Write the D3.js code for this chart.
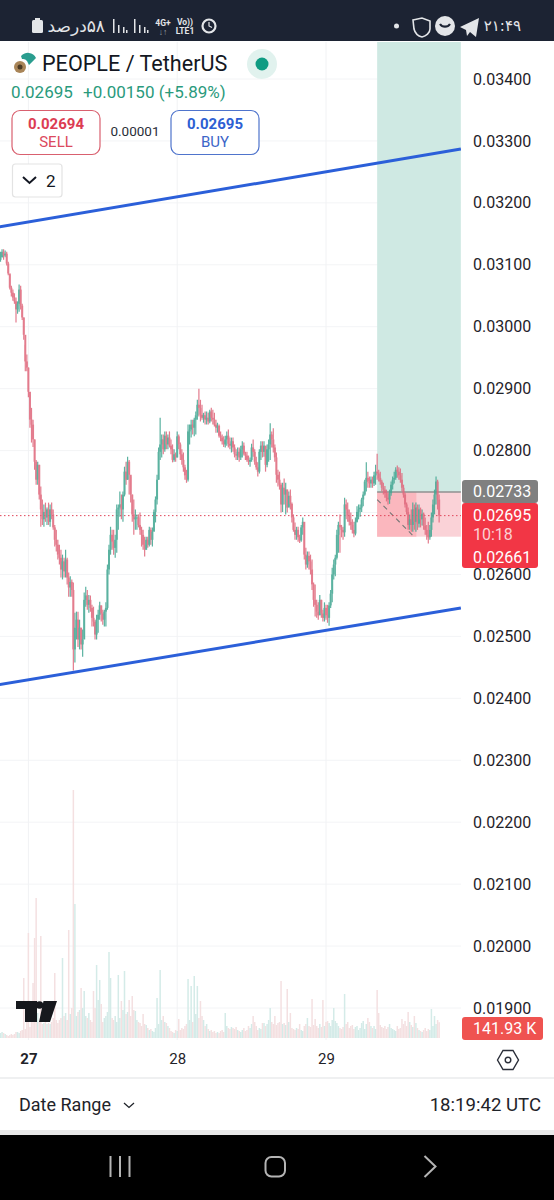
<!DOCTYPE html>
<html><head><meta charset="utf-8">
<style>
html,body{margin:0;padding:0;background:#fff;width:554px;height:1200px;overflow:hidden}
svg{display:block}
text{font-family:Roboto,sans-serif}
</style>
<script src="https://cdn.jsdelivr.net/npm/d3@7"></script>
</head><body>
<svg id="c" width="554" height="1200"></svg>
<script>
// PEOPLE / TetherUS, 15 minute candles. Prices are in units of 0.00001, volumes in thousands.
const firstOpen = 3108;
const highs = [
3121,3125,3125,3123,3121,3105,3084,3066,3060,3054,3047,3041,3068,3066,3037,3015,2971,2955,2934,2890,
2869,2850,2818,2785,2782,2777,2742,2721,2713,2716,2708,2716,2713,2716,2705,2680,2672,2656,2648,2640,
2632,2627,2640,2627,2603,2597,2592,2587,2538,2540,2540,2527,2514,2511,2571,2580,2575,2567,2566,2551,
2548,2527,2535,2543,2556,2550,2543,2543,2555,2616,2648,2677,2672,2672,2664,2713,2713,2734,2729,2734,
2774,2782,2790,2785,2758,2729,2721,2705,2697,2697,2700,2677,2672,2661,2661,2661,2677,2676,2676,2705,
2726,2761,2805,2853,2826,2826,2831,2831,2826,2831,2818,2810,2802,2797,2831,2826,2813,2802,2797,2777,
2769,2842,2842,2850,2850,2853,2863,2882,2900,2882,2874,2861,2863,2863,2861,2866,2869,2866,2861,2850,
2845,2842,2831,2826,2823,2824,2831,2834,2821,2821,2821,2810,2802,2805,2805,2808,2815,2813,2798,2798,
2792,2789,2811,2818,2802,2790,2781,2802,2815,2815,2815,2806,2810,2818,2844,2831,2836,2810,2797,2769,
2766,2748,2748,2755,2748,2737,2734,2737,2716,2697,2684,2677,2677,2664,2680,2692,2680,2643,2637,2637,
2632,2624,2587,2584,2559,2555,2567,2559,2543,2555,2551,2551,2555,2575,2611,2624,2632,2672,2685,2697,
2680,2677,2724,2721,2716,2705,2700,2689,2685,2692,2710,2713,2713,2724,2734,2753,2781,2766,2758,2758,
2758,2766,2777,2795,2769,2766,2753,2748,2743,2737,2732,2737,2750,2758,2766,2773,2776,2773,2771,2764,
2745,2732,2716,2708,2697,2705,2716,2713,2716,2713,2713,2708,2705,2700,2692,2680,2685,2680,2700,2721,
2737,2758,2753,2729];
const lows = [
3105,3112,3108,3112,3099,3083,3060,3049,3042,3037,3007,3021,3024,3028,3011,2979,2928,2928,2886,2837,
2813,2806,2769,2745,2745,2721,2677,2680,2677,2685,2680,2680,2677,2689,2672,2645,2637,2624,2616,2595,
2592,2595,2595,2584,2564,2564,2564,2445,2458,2495,2483,2479,2479,2467,2500,2548,2543,2538,2540,2516,
2516,2495,2495,2506,2527,2524,2519,2516,2516,2543,2600,2632,2640,2632,2627,2635,2672,2693,2689,2685,
2726,2745,2753,2729,2716,2685,2664,2672,2672,2676,2664,2645,2640,2629,2640,2643,2645,2648,2645,2672,
2684,2713,2753,2785,2789,2794,2798,2802,2802,2805,2794,2781,2782,2782,2789,2802,2785,2777,2766,2753,
2748,2750,2810,2821,2826,2823,2826,2850,2855,2847,2850,2845,2842,2842,2842,2844,2847,2842,2839,2829,
2829,2821,2815,2810,2806,2805,2808,2805,2802,2797,2798,2789,2785,2785,2782,2785,2789,2792,2785,2782,
2777,2774,2782,2790,2777,2769,2758,2763,2785,2789,2790,2766,2773,2782,2785,2805,2797,2782,2748,2742,
2737,2700,2701,2713,2697,2700,2710,2705,2684,2669,2656,2656,2653,2651,2653,2664,2624,2608,2611,2608,
2600,2575,2548,2532,2530,2527,2538,2530,2524,2524,2527,2522,2517,2546,2555,2592,2597,2624,2635,2635,
2660,2656,2661,2689,2685,2679,2672,2666,2660,2663,2684,2689,2693,2701,2710,2727,2734,2740,2740,2740,
2740,2743,2745,2753,2750,2745,2734,2729,2724,2718,2713,2714,2727,2737,2747,2753,2756,2753,2748,2734,
2724,2708,2697,2672,2672,2669,2669,2672,2669,2672,2676,2676,2679,2672,2664,2656,2650,2656,2661,2684,
2697,2713,2705,2684];
const closes = [
3112,3121,3115,3118,3102,3086,3063,3055,3047,3041,3028,3037,3060,3034,3015,2987,2944,2934,2895,2850,
2842,2818,2782,2753,2777,2729,2705,2689,2701,2692,2705,2685,2705,2697,2676,2656,2648,2632,2627,2608,
2621,2605,2624,2595,2579,2588,2575,2479,2514,2527,2495,2514,2487,2495,2559,2566,2551,2559,2546,2530,
2524,2503,2527,2535,2550,2537,2527,2540,2546,2608,2640,2664,2653,2643,2656,2705,2708,2713,2705,2729,
2766,2753,2782,2761,2729,2697,2689,2692,2692,2680,2672,2664,2648,2640,2656,2648,2672,2656,2669,2701,
2721,2753,2798,2810,2818,2802,2824,2810,2821,2808,2802,2785,2794,2789,2823,2810,2794,2785,2773,2760,
2753,2831,2834,2842,2837,2850,2857,2874,2869,2858,2853,2857,2850,2853,2847,2863,2853,2850,2842,2837,
2840,2824,2821,2815,2810,2818,2824,2811,2808,2815,2805,2794,2792,2798,2789,2802,2808,2795,2792,2785,
2782,2785,2805,2798,2782,2773,2766,2798,2808,2798,2808,2777,2802,2810,2826,2818,2805,2789,2761,2753,
2745,2713,2740,2729,2737,2708,2727,2714,2692,2672,2664,2672,2660,2655,2676,2685,2632,2616,2630,2621,
2608,2584,2559,2551,2540,2534,2559,2537,2530,2546,2534,2530,2550,2569,2600,2616,2627,2664,2680,2676,
2672,2668,2713,2705,2695,2685,2680,2672,2666,2685,2701,2705,2708,2721,2729,2750,2756,2750,2747,2753,
2747,2760,2766,2763,2756,2750,2740,2737,2731,2724,2721,2731,2745,2753,2756,2769,2766,2760,2753,2740,
2729,2713,2701,2680,2689,2680,2705,2685,2708,2682,2705,2689,2698,2679,2672,2664,2660,2672,2692,2713,
2729,2750,2721,2695];
const volumes = [
45,54,45,36,27,18,27,36,27,36,54,54,45,63,72,540,81,162,945,99,
144,495,900,1260,225,144,918,126,135,162,126,135,126,144,180,585,162,135,162,180,
720,198,225,162,972,216,270,2232,1206,198,234,252,450,270,423,198,180,225,162,144,
423,270,657,342,522,306,144,180,198,234,774,540,180,162,198,144,567,180,333,252,
603,216,234,342,198,378,252,243,162,144,135,108,216,126,117,90,72,81,63,54,
90,360,126,612,162,198,144,135,108,90,63,54,45,72,63,171,72,90,81,108,
126,531,162,468,144,558,216,468,180,333,198,162,108,126,81,63,72,54,63,45,
54,45,63,72,54,225,108,90,81,99,90,81,99,72,63,54,72,90,63,72,
108,90,126,198,144,108,72,90,81,135,135,108,126,162,270,144,126,198,117,135,
144,513,126,135,117,441,144,225,90,81,72,90,81,126,72,63,108,126,180,108,
99,351,117,171,108,90,126,99,342,108,144,153,135,108,162,270,153,135,108,90,
81,99,396,126,144,90,108,117,81,99,108,72,90,135,153,81,126,180,144,108,
90,108,81,432,225,117,99,90,108,81,99,126,90,81,72,63,108,81,90,171,
126,153,108,234,144,117,99,198,135,90,72,63,54,72,90,63,81,72,261,108,
198,126,162,141.93];
const priceTicks = [3400,3300,3200,3100,3000,2900,2800,2700,2600,2500,2400,2300,2200,2100,2000,1900];
const axisPriceTicks = priceTicks.filter(t => t !== 2700);
const dayIndex = [18,114,210];
const dayLabels = ["27","28","29"];
const upperTrend = [[-1,3161],[297,3287]];
const lowerTrend = [[-1,2422],[297,2546]];
const entryPrice = 2733, stopPrice = 2661, targetPrice = 3500, lastPrice = 2695;
const boxStart = 243, boxFilled = 268.3, boxEnd = 297;
const riskPath = [[243,2721],[266,2663]];

const svg = d3.select("#c");
const x = d3.scaleLinear().domain([0,297]).range([0.5,460.85]);
const y = d3.scaleLinear().domain([3400,1900]).range([79,1008]);
const v = d3.scaleLinear().domain([0,2232]).range([1038,790]);
const fmt = d => (d/100000).toFixed(5);

const GREEN = "#45a894", RED = "#e06a7e";
const candles = closes.map((c,i) => ({i, c, h:highs[i], l:lows[i], o:i?closes[i-1]:firstOpen, vol:volumes[i]}));

svg.append("defs").append("clipPath").attr("id","plot")
  .append("rect").attr("x",0).attr("y",42).attr("width",461).attr("height",998);

// grid
const plot = svg.append("g").attr("clip-path","url(#plot)");
plot.append("g").selectAll("line").data(priceTicks).join("line")
  .attr("x1",0).attr("x2",461).attr("y1",d=>y(d)).attr("y2",d=>y(d))
  .attr("stroke","#f3f4f6").attr("stroke-width",1);
plot.append("g").selectAll("line").data(dayIndex).join("line")
  .attr("x1",d=>x(d)).attr("x2",d=>x(d)).attr("y1",42).attr("y2",1040)
  .attr("stroke","#f1f2f4").attr("stroke-width",1);

// long position zones
plot.append("rect").attr("x",x(boxStart)).attr("width",x(boxEnd)-x(boxStart))
  .attr("y",y(targetPrice)).attr("height",y(entryPrice)-y(targetPrice)).attr("fill","#cfe9e3");
plot.append("rect").attr("x",x(boxStart)).attr("width",x(boxEnd)-x(boxStart))
  .attr("y",y(entryPrice)).attr("height",y(stopPrice)-y(entryPrice)).attr("fill","#fad2d7");
plot.append("rect").attr("x",x(boxStart)).attr("width",x(boxFilled)-x(boxStart))
  .attr("y",y(entryPrice)).attr("height",y(stopPrice)-y(entryPrice)).attr("fill","#fbb7be");
plot.append("line").attr("x1",x(boxStart)).attr("x2",x(boxEnd))
  .attr("y1",y(entryPrice)).attr("y2",y(entryPrice)).attr("stroke","#8f8f8f").attr("stroke-width",1.5);
plot.append("path").attr("d",d3.line().x(d=>x(d[0])).y(d=>y(d[1]))(riskPath))
  .attr("fill","none").attr("stroke","#777").attr("stroke-width",1.1).attr("stroke-dasharray","5,4");

// volume
plot.append("g").selectAll("rect").data(candles).join("rect")
  .attr("x",d=>x(d.i)-0.75).attr("width",1.5)
  .attr("y",d=>v(d.vol)).attr("height",d=>v(0)-v(d.vol))
  .attr("fill",d=>d.c>=d.o?"#d4ebe8":"#f4e0e1");

// current price line
plot.append("line").attr("x1",0).attr("x2",461).attr("y1",y(lastPrice)).attr("y2",y(lastPrice))
  .attr("stroke","#e0455a").attr("stroke-width",1).attr("stroke-dasharray","1.5,2.5");

// candles
const cg = plot.append("g").attr("opacity",0.88);
cg.selectAll("line").data(candles).join("line")
  .attr("x1",d=>x(d.i)).attr("x2",d=>x(d.i)).attr("y1",d=>y(d.h)).attr("y2",d=>y(d.l))
  .attr("stroke",d=>d.c>=d.o?GREEN:RED).attr("stroke-width",1.2);
cg.selectAll("rect").data(candles).join("rect")
  .attr("x",d=>x(d.i)-1).attr("width",2)
  .attr("y",d=>y(Math.max(d.o,d.c))).attr("height",d=>Math.max(1,Math.abs(y(d.c)-y(d.o))))
  .attr("fill",d=>d.c>=d.o?GREEN:RED);

// trend lines
const trend = d3.line().x(d=>x(d[0])).y(d=>y(d[1]));
[upperTrend,lowerTrend].forEach(t => plot.append("path").attr("d",trend(t))
  .attr("fill","none").attr("stroke","#2b5fd9").attr("stroke-width",3));

// price axis
const yAxis = svg.append("g").attr("transform","translate(462,0)")
  .call(d3.axisRight(y).tickValues(axisPriceTicks).tickSize(0).tickPadding(11).tickFormat(fmt));
yAxis.select(".domain").remove();
yAxis.selectAll("text").attr("font-size",16).attr("fill","#1f2329").style("font-family","Roboto,sans-serif");

// price tags
const tag = (x0,y0,w,h,fill,r) => svg.append("rect").attr("x",x0).attr("y",y0).attr("width",w).attr("height",h).attr("rx",r).attr("fill",fill);
const label = (tx,ty,t,size,fill,opt={}) => svg.append("text").attr("x",tx).attr("y",ty).attr("font-size",size)
  .attr("fill",fill).attr("text-anchor",opt.anchor||"start").attr("font-weight",opt.weight||400)
  .style("font-family",opt.family||"Roboto,sans-serif").text(t);
tag(462,480,76,23,"#808080",3);
tag(462,503,76,65,"#f23645",3);
label(473,497,fmt(entryPrice),16,"#fff");
label(473,521,fmt(lastPrice),16,"#fff");
label(473,540,"10:18",16,"#fbd0d4");
label(473,563,fmt(stopPrice),16,"#fff");
tag(462,1017,81,23,"#ef5350",3);
label(473,1034,"141.93 K",16,"#fff");

// time axis
const xAxis = svg.append("g").attr("transform","translate(0,1047)")
  .call(d3.axisBottom(x).tickValues(dayIndex).tickSize(0).tickPadding(6).tickFormat((d,i)=>dayLabels[i]));
xAxis.select(".domain").remove();
xAxis.selectAll("text").attr("font-size",15).attr("fill","#1f2329").style("font-family","Roboto,sans-serif")
  .attr("font-weight",(d,i)=>i===0?700:400);
svg.append("path").attr("d","M497.5 1060l5.5-9.5h10l5.5 9.5-5.5 9.5h-10z").attr("fill","none").attr("stroke","#2a2e39").attr("stroke-width",1.4);
svg.append("circle").attr("cx",508).attr("cy",1060).attr("r",2.8).attr("fill","none").attr("stroke","#2a2e39").attr("stroke-width",1.4);

// watermark
svg.append("path").attr("fill","#16181d")
  .attr("d","M16 1001h21v21h-12v-13h-9zM43.5 1001h13.5l-7 21h-11z");
svg.append("circle").attr("cx",39.5).attr("cy",1005).attr("r",3.8).attr("fill","#16181d");

// legend block
label(42,71,"PEOPLE / TetherUS",21.6,"#131722");
svg.append("path").attr("d","M21 56a9 9 0 0 1 15 2l-7 7-2-4a5 5 0 0 0-5-2z").attr("fill","#2a9d8f");
svg.append("circle").attr("cx",20).attr("cy",67).attr("r",6).attr("fill","#a98558");
svg.append("circle").attr("cx",20).attr("cy",67).attr("r",2.5).attr("fill","#4b3a25");
svg.append("circle").attr("cx",262).attr("cy",64).attr("r",15).attr("fill","#e1f2ee");
svg.append("circle").attr("cx",262).attr("cy",64).attr("r",6.5).attr("fill","#0f9b82");
label(11,98,"0.02695",17,"#2a9a7c");
label(83,98,"+0.00150 (+5.89%)",17,"#2a9a7c");
const btn = (x0,w,c) => svg.append("rect").attr("x",x0+.5).attr("y",110.5).attr("width",w).attr("height",44).attr("rx",8).attr("fill","#fff").attr("stroke",c).attr("stroke-width",1.2);
btn(11.5,88,"#d9606f"); btn(170.5,88,"#4f74cc");
label(56,129,"0.02694",15,"#dc3c52",{anchor:"middle",weight:700});
label(56,147,"SELL",15,"#dc4a5e",{anchor:"middle"});
label(215,129,"0.02695",15,"#2d5fd3",{anchor:"middle",weight:700});
label(215,147,"BUY",15,"#3c66c8",{anchor:"middle"});
label(135,136,"0.00001",13.5,"#2a2e39",{anchor:"middle"});
svg.append("rect").attr("x",12.5).attr("y",164).attr("width",49.5).attr("height",33).attr("rx",3).attr("fill","#fff").attr("stroke","#e3e3e3").attr("stroke-width",1.2);
svg.append("path").attr("d","M23 177l6.5 6 6.5-6").attr("fill","none").attr("stroke","#131722").attr("stroke-width",2);
label(46,187,"2",17,"#131722");

// footer
svg.append("line").attr("x1",0).attr("x2",554).attr("y1",1078).attr("y2",1078).attr("stroke","#eff0f1").attr("stroke-width",2);
label(19,1111,"Date Range",18,"#1f2329");
svg.append("path").attr("d","M124 1103l5 4.5 5-4.5").attr("fill","none").attr("stroke","#1f2329").attr("stroke-width",1.3);
label(541,1111,"18:19:42 UTC",18.6,"#1f2329",{anchor:"end"});
svg.append("rect").attr("x",0).attr("y",1130).attr("width",554).attr("height",5).attr("fill","#e9e9e9");

// navigation bar
svg.append("rect").attr("x",0).attr("y",1135).attr("width",554).attr("height",65).attr("fill","#000");
[110.5,120,129.5].forEach(px => svg.append("line").attr("x1",px).attr("x2",px).attr("y1",1156).attr("y2",1177).attr("stroke","#b4b4b4").attr("stroke-width",2));
svg.append("rect").attr("x",265.5).attr("y",1157).attr("width",19.5).attr("height",19.5).attr("rx",6).attr("fill","none").attr("stroke","#b4b4b4").attr("stroke-width",2);
svg.append("path").attr("d","M424.5 1156l11 10.5-11 10.5").attr("fill","none").attr("stroke","#b4b4b4").attr("stroke-width",2);

// status bar
svg.append("rect").attr("x",0).attr("y",0).attr("width",554).attr("height",41).attr("fill","#1c2333");
const ST = "#e3e5e8";
svg.append("rect").attr("x",32).attr("y",20).attr("width",11).attr("height",13).attr("rx",1.5).attr("fill",ST);
svg.append("rect").attr("x",35).attr("y",18).attr("width",5).attr("height",2).attr("fill",ST);
label(105,32,"۵۸درصد",17,ST,{family:"DejaVu Sans"}).attr("direction","rtl");
[[113,14],[118,8],[123,6],[126,3]].forEach(b => svg.append("rect").attr("x",b[0]).attr("y",33-b[1]).attr("width",1.5).attr("height",b[1]).attr("fill",ST));
[[134,14],[139,8],[144,6],[147,3]].forEach(b => svg.append("rect").attr("x",b[0]).attr("y",33-b[1]).attr("width",1.5).attr("height",b[1]).attr("fill",ST));
label(163,26,"4G+",8.5,ST,{anchor:"middle",weight:700});
label(163,35,"↓↑",8.5,"#9aa0a8",{anchor:"middle"});
label(185,25,"Vo))",8.5,ST,{anchor:"middle",weight:700});
label(185,34,"LTE1",8.5,ST,{anchor:"middle",weight:700});
svg.append("circle").attr("cx",209).attr("cy",26).attr("r",6.5).attr("fill","none").attr("stroke",ST).attr("stroke-width",2.2);
svg.append("path").attr("d","M209 22v4l3 1.5").attr("fill","none").attr("stroke",ST).attr("stroke-width",1.2);
svg.append("circle").attr("cx",396.5).attr("cy",26).attr("r",2.5).attr("fill",ST);
svg.append("path").attr("d","M413 20l9-2 8 3v8c0 4-4 7-8 8-4-1-7-4-8-8z").attr("fill","none").attr("stroke",ST).attr("stroke-width",1.6);
svg.append("circle").attr("cx",445).attr("cy",26).attr("r",10).attr("fill",ST);
svg.append("path").attr("d","M440 24a6 6 0 0 0 10 0").attr("fill","none").attr("stroke","#1c2333").attr("stroke-width",2.2);
svg.append("path").attr("d","M460 27l19-9-3 19-6-5-3 4-1-6z").attr("fill",ST);
label(521,31,"۲۱:۴۹",15,ST,{anchor:"end",family:"DejaVu Sans"}).attr("direction","ltr");
</script>
</body></html>
